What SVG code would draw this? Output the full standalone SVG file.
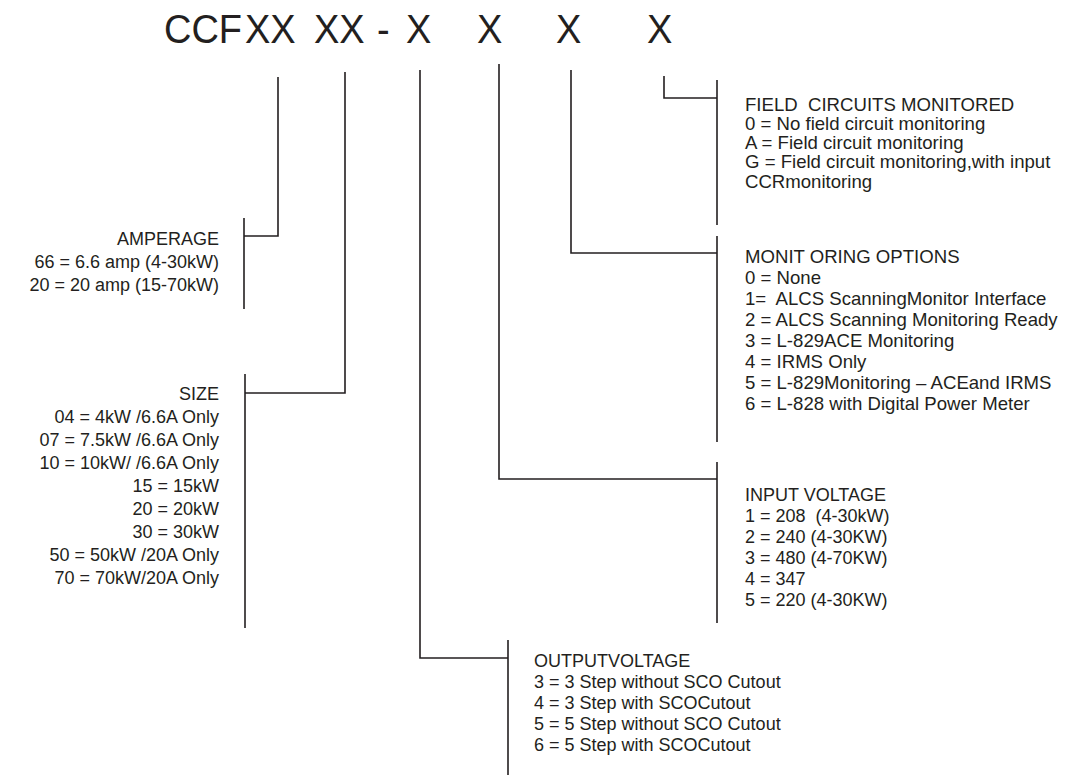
<svg xmlns="http://www.w3.org/2000/svg" width="1071" height="783" viewBox="0 0 1071 783">
<style>
  .t{font-family:"Liberation Sans",Arial,sans-serif;font-size:18px;fill:#231f20;white-space:pre}
  .r{text-anchor:end}
  .w{font-size:18.6px}
  .title{font-family:"Liberation Sans",Arial,sans-serif;font-size:38px;fill:#231f20}
  .ln{fill:none;stroke:#231f20;stroke-width:1.6}
</style>
<rect width="1071" height="783" fill="#ffffff"/>
<g id="code">
  <text class="title" transform="translate(0,43) scale(1,1.08)">
    <tspan x="164" y="0">CCF</tspan><tspan x="245" y="0">XX</tspan><tspan x="314" y="0">XX</tspan><tspan x="377" y="0">-</tspan><tspan x="406" y="0">X</tspan><tspan x="477" y="0">X</tspan><tspan x="556" y="0">X</tspan><tspan x="647" y="0">X</tspan>
  </text>
</g>
<g id="connectors">
  <path class="ln" d="M278,77 V236 H244"/>
  <path class="ln" d="M345,72 V393 H245"/>
  <path class="ln" d="M420,70 V658 H508"/>
  <path class="ln" d="M499,64 V479 H717"/>
  <path class="ln" d="M571,70 V253 H717"/>
  <path class="ln" d="M664,76 V98 H717"/>
</g>
<g id="amperage">
  <path class="ln" d="M244,218 V309"/>
  <text class="t r" x="219" y="245">AMPERAGE</text>
  <text class="t r" x="219" y="268">66 = 6.6 amp (4-30kW)</text>
  <text class="t r" x="219" y="291">20 = 20 amp (15-70kW)</text>
</g>
<g id="size">
  <path class="ln" d="M245,374 V628"/>
  <text class="t r" x="219" y="400">SIZE</text>
  <text class="t r" x="219" y="423">04 = 4kW /6.6A Only</text>
  <text class="t r" x="219" y="446">07 = 7.5kW /6.6A Only</text>
  <text class="t r" x="219" y="469">10 = 10kW/ /6.6A Only</text>
  <text class="t r" x="219" y="492">15 = 15kW</text>
  <text class="t r" x="219" y="515">20 = 20kW</text>
  <text class="t r" x="219" y="538">30 = 30kW</text>
  <text class="t r" x="219" y="561">50 = 50kW /20A Only</text>
  <text class="t r" x="219" y="584">70 = 70kW/20A Only</text>
</g>
<g id="field-circuits">
  <path class="ln" d="M717,80 V225"/>
  <text class="t w" x="745" y="111" xml:space="preserve">FIELD  CIRCUITS MONITORED</text>
  <text class="t w" x="745" y="130">0 = No field circuit monitoring</text>
  <text class="t w" x="745" y="149">A = Field circuit monitoring</text>
  <text class="t w" x="745" y="168">G = Field circuit monitoring,with input</text>
  <text class="t w" x="745" y="188">CCRmonitoring</text>
</g>
<g id="monitoring-options">
  <path class="ln" d="M717,236 V442"/>
  <text class="t w" x="745" y="263">MONIT ORING OPTIONS</text>
  <text class="t w" x="745" y="284">0 = None</text>
  <text class="t w" x="745" y="305" xml:space="preserve">1=  ALCS ScanningMonitor Interface</text>
  <text class="t w" x="745" y="326">2 = ALCS Scanning Monitoring Ready</text>
  <text class="t w" x="745" y="347">3 = L-829ACE Monitoring</text>
  <text class="t w" x="745" y="368">4 = IRMS Only</text>
  <text class="t w" x="745" y="389">5 = L-829Monitoring – ACEand IRMS</text>
  <text class="t w" x="745" y="410">6 = L-828 with Digital Power Meter</text>
</g>
<g id="input-voltage">
  <path class="ln" d="M717,462 V623"/>
  <text class="t" x="745" y="501">INPUT VOLTAGE</text>
  <text class="t" x="745" y="522" xml:space="preserve">1 = 208  (4-30kW)</text>
  <text class="t" x="745" y="543">2 = 240 (4-30KW)</text>
  <text class="t" x="745" y="564">3 = 480 (4-70KW)</text>
  <text class="t" x="745" y="585">4 = 347</text>
  <text class="t" x="745" y="606">5 = 220 (4-30KW)</text>
</g>
<g id="output-voltage">
  <path class="ln" d="M508,640 V775"/>
  <text class="t" x="534" y="667">OUTPUTVOLTAGE</text>
  <text class="t" x="534" y="688">3 = 3 Step without SCO Cutout</text>
  <text class="t" x="534" y="709">4 = 3 Step with SCOCutout</text>
  <text class="t" x="534" y="730">5 = 5 Step without SCO Cutout</text>
  <text class="t" x="534" y="751">6 = 5 Step with SCOCutout</text>
</g>
</svg>
